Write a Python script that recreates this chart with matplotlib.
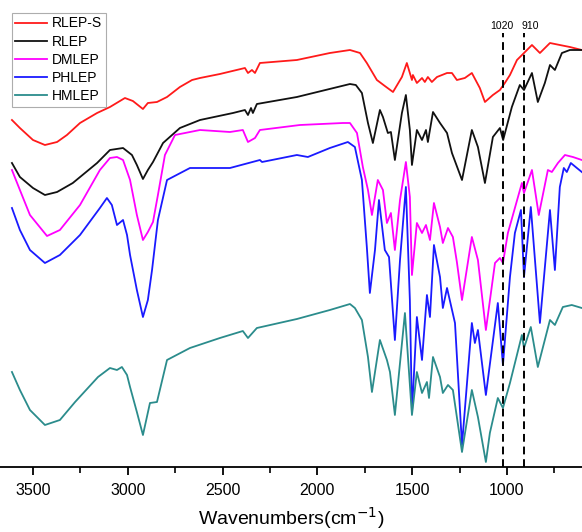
import matplotlib
matplotlib.use("Agg")
import matplotlib.pyplot as plt
from matplotlib.ticker import MultipleLocator, FixedLocator

plt.rcParams['font.family'] = ['Liberation Sans', 'DejaVu Sans']

# ---------------- data (wavenumber, transmittance a.u. with offsets) ----------------
rleps_wn = [3611, 3569, 3500, 3437, 3373, 3321, 3252, 3162, 3094, 3015, 2973, 2920, 2894, 2846,
            2793, 2725, 2661, 2619, 2514, 2382, 2366, 2345, 2329, 2303, 2108, 1934, 1828, 1775,
            1739, 1686, 1644, 1601, 1554, 1528, 1501, 1496, 1475, 1448, 1433, 1417, 1396, 1369,
            1316, 1290, 1264, 1222, 1185, 1143, 1116, 1074, 1037, 1011, 984, 947, 910, 868, 826,
            773, 721, 668, 605]
rleps_t = [347, 339, 327, 322, 325, 332, 344, 354, 360, 369, 366, 358, 364, 365,
           370, 380, 387, 389, 393, 399, 394, 397, 394, 404, 407, 414, 417, 414,
           404, 387, 381, 375, 390, 404, 387, 392, 384, 389, 385, 390, 385, 390,
           394, 394, 387, 389, 394, 379, 365, 372, 377, 384, 392, 407, 414, 422, 414,
           424, 422, 420, 417]

rlep_wn = [3611, 3569, 3500, 3437, 3373, 3290, 3162, 3094, 3025, 2978, 2952, 2920, 2894, 2867,
           2814, 2725, 2619, 2445, 2382, 2366, 2350, 2340, 2319, 2108, 1828, 1797, 1765, 1733,
           1707, 1670, 1654, 1628, 1612, 1591, 1554, 1533, 1512, 1501, 1475, 1448, 1427, 1417,
           1390, 1353, 1316, 1290, 1237, 1185, 1153, 1116, 1074, 1037, 1020, 974, 932, 910, 868,
           837, 800, 773, 747, 710, 668, 605]
rlep_t = [304, 290, 279, 272, 275, 284, 304, 317, 319, 312, 302, 288, 297, 305,
          324, 339, 347, 354, 357, 352, 359, 354, 363, 370, 383, 382, 374, 344,
          324, 357, 350, 334, 335, 307, 354, 372, 337, 302, 337, 327, 337, 325,
          355, 344, 334, 314, 287, 337, 320, 284, 330, 339, 327, 360, 382, 377, 394,
          365, 384, 402, 397, 414, 417, 417]

dmlep_wn = [3611, 3569, 3516, 3426, 3358, 3252, 3147, 3094, 3057, 3025, 2988, 2952, 2920, 2894,
            2867, 2841, 2804, 2751, 2619, 2461, 2393, 2366, 2329, 2303, 2092, 1865, 1828, 1791,
            1760, 1733, 1712, 1681, 1654, 1633, 1612, 1591, 1564, 1533, 1512, 1501, 1475, 1448,
            1427, 1406, 1385, 1353, 1338, 1311, 1285, 1264, 1237, 1185, 1153, 1111, 1063, 1037,
            1021, 995, 958, 921, 910, 868, 832, 784, 763, 731, 694, 652, 605]
dmlep_t = [297, 277, 252, 231, 237, 262, 297, 309, 310, 307, 287, 252, 227, 235,
           245, 272, 312, 332, 337, 335, 337, 325, 329, 337, 342, 344, 344, 334,
           300, 277, 252, 287, 277, 244, 254, 217, 267, 305, 270, 192, 244, 234,
           242, 227, 264, 240, 224, 239, 230, 205, 167, 230, 207, 137, 204, 209,
           204, 234, 259, 284, 274, 297, 252, 297, 295, 304, 312, 310, 307]

phlep_wn = [3611, 3569, 3516, 3437, 3358, 3252, 3147, 3110, 3084, 3057, 3025, 3004, 2988, 2952,
            2920, 2894, 2872, 2841, 2793, 2672, 2461, 2303, 2292, 2108, 2050, 1934, 1839, 1802,
            1765, 1739, 1723, 1696, 1675, 1644, 1622, 1591, 1564, 1533, 1512, 1501, 1475, 1448,
            1422, 1406, 1385, 1353, 1338, 1316, 1274, 1237, 1185, 1169, 1153, 1111, 1048, 1021,
            984, 958, 926, 910, 874, 826, 773, 747, 721, 700, 684, 663, 631, 605]
phlep_t = [259, 237, 217, 204, 212, 232, 259, 269, 262, 242, 247, 232, 212, 177,
           150, 167, 197, 247, 287, 299, 299, 307, 305, 312, 310, 319, 325, 320,
           287, 220, 174, 217, 267, 217, 210, 127, 207, 280, 167, 54, 150, 107,
           172, 150, 222, 190, 159, 179, 144, 22, 144, 124, 137, 72, 164, 102,
           190, 234, 257, 190, 260, 144, 257, 197, 280, 299, 295, 304, 299, 295]

hmlep_wn = [3611, 3569, 3516, 3437, 3358, 3278, 3157, 3094, 3057, 3031, 3004, 2988, 2952, 2920,
            2883, 2846, 2793, 2672, 2514, 2393, 2366, 2319, 2108, 1934, 1828, 1802, 1765, 1733,
            1712, 1670, 1633, 1617, 1591, 1538, 1501, 1475, 1448, 1422, 1411, 1390, 1353, 1338,
            1311, 1285, 1237, 1185, 1153, 1111, 1090, 1048, 1021, 984, 921, 910, 874, 837, 773,
            747, 705, 658, 605]
hmlep_t = [95, 77, 57, 42, 47, 65, 90, 99, 97, 100, 92, 80, 55, 32,
           64, 65, 107, 119, 129, 136, 129, 139, 148, 157, 163, 159, 147, 110,
           75, 127, 107, 95, 52, 154, 52, 95, 74, 85, 69, 110, 90, 74,
           82, 77, 15, 77, 50, 5, 34, 69, 59, 84, 132, 119, 140, 100, 147,
           142, 160, 162, 159]

labels = ["RLEP-S", "RLEP", "DMLEP", "PHLEP", "HMLEP"]
colors = ["#ff1a1a", "#111111", "#ff00ff", "#1a1aff", "#2b8c8c"]
marker_wn = [1020, 910]
marker_text_wn = [1027, 879]
major_ticks = [3500, 3000, 2500, 2000, 1500, 1000]

# ---------------- figure ----------------
fig = plt.figure(figsize=(5.82, 5.32), dpi=100)
ax = fig.add_axes([0.0, 1 - 467 / 532, 1.0, 467 / 532])

series = [(rleps_wn, rleps_t), (rlep_wn, rlep_t), (dmlep_wn, dmlep_t),
          (phlep_wn, phlep_t), (hmlep_wn, hmlep_t)]
for (wn, t), lab, c in zip(series, labels, colors):
    ax.plot(wn, t, color=c, lw=1.3, label=lab, solid_joinstyle="round")

for w, tw in zip(marker_wn, marker_text_wn):
    ax.vlines(w, 0, 434, colors="black", linestyles=(0, (4, 2.5)), lw=1.4)
    ax.text(tw, 441, str(w), ha="center", va="center", fontsize=7.5)

ax.set_xlim(3674, 604)
ax.set_ylim(0, 467)

for s in ["top", "left", "right"]:
    ax.spines[s].set_visible(False)
ax.spines["bottom"].set_linewidth(1.3)
ax.set_yticks([])
ax.xaxis.set_major_locator(FixedLocator(major_ticks))
ax.xaxis.set_minor_locator(MultipleLocator(250))
ax.tick_params(axis="x", which="major", direction="out", length=6, width=1.3,
               labelsize=11.5, pad=5.5)
ax.tick_params(axis="x", which="minor", direction="out", length=4, width=1.2)
ax.set_xlabel("Wavenumbers(cm$^{-1}$)", fontsize=14, labelpad=5)

leg = ax.legend(loc="upper left", bbox_to_anchor=(12 / 582, 1 - 13 / 467),
                frameon=True, fancybox=False, fontsize=10, handlelength=2.3,
                handletextpad=0.35, labelspacing=0.3, borderpad=0.25,
                borderaxespad=0)
leg.get_frame().set_edgecolor("#999999")
leg.get_frame().set_linewidth(0.8)

fig.savefig("out.png", dpi=100)
